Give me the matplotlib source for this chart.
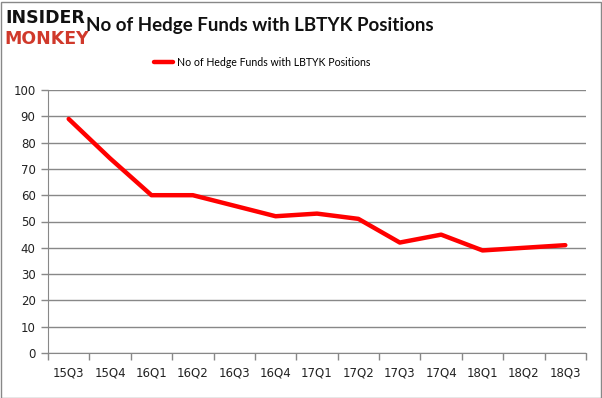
import matplotlib
matplotlib.use("Agg")
import matplotlib.pyplot as plt
from matplotlib.patches import Rectangle

quarters = ["15Q3", "15Q4", "16Q1", "16Q2", "16Q3", "16Q4", "17Q1", "17Q2",
            "17Q3", "17Q4", "18Q1", "18Q2", "18Q3"]
funds = [89, 74, 60, 60, 56, 52, 53, 51, 42, 45, 39, 40, 41]
yticks = [0, 10, 20, 30, 40, 50, 60, 70, 80, 90, 100]
series_name = "No of Hedge Funds with LBTYK Positions"

W, H = 602, 398
fig = plt.figure(figsize=(W / 100, H / 100), dpi=100)
fig.patch.set_facecolor("white")
fig.add_artist(Rectangle((0.5 / W, 0.5 / H), 1 - 2 / W, 1 - 2 / H, transform=fig.transFigure,
                         fill=False, edgecolor="#888888", linewidth=1))

left, right, top, bottom = 48, 586, 90, 353
ax = fig.add_axes([left / W, 1 - bottom / H, (right - left) / W, (bottom - top) / H])
x = list(range(len(quarters)))
ax.plot(x, funds, color="#ff0000", linewidth=3.2, solid_joinstyle="round",
        solid_capstyle="round", label=series_name)
ax.set_xlim(-0.5, len(quarters) - 0.5)
ax.set_ylim(0, 100)
ax.set_yticks(yticks)
ax.set_yticklabels([str(v) for v in yticks], fontsize=8.5, color="#222222")
ax.yaxis.grid(True, color="#888888", linewidth=1)
ax.set_axisbelow(True)
ax.set_xticks(x)
ax.set_xticklabels(quarters, fontsize=8.5, color="#222222")
ax.tick_params(axis="x", length=0, pad=10)
ax.set_xticks([i - 0.5 for i in range(len(quarters) + 1)], minor=True)
ax.tick_params(axis="x", which="minor", length=5, color="#888888", width=1)
ax.tick_params(axis="y", length=5, color="#888888", width=1, pad=4)
for s in ["top", "right"]:
    ax.spines[s].set_visible(False)
ax.spines["left"].set_color("#888888")
ax.spines["bottom"].set_color("#888888")

fig.text(260 / W, 1 - 26 / H, series_name, ha="center", va="center",
         fontsize=13.5, fontweight="bold", color="#111111", family="Lato")
leg = fig.legend(loc="center", bbox_to_anchor=(262 / W, 1 - 62 / H), frameon=False,
                 prop={"family": "Lato", "size": 7.6}, handlelength=1.8, handletextpad=0.4)

fig.text(5 / W, 1 - 18 / H, "INSIDER", ha="left", va="center", fontsize=12.5,
         fontweight="black", color="#111111", family="DejaVu Sans")
fig.text(4 / W, 1 - 39 / H, "MONKEY", ha="left", va="center", fontsize=12.5,
         fontweight="black", color="#d0392b", family="DejaVu Sans")

fig.savefig("out.png", dpi=100)
